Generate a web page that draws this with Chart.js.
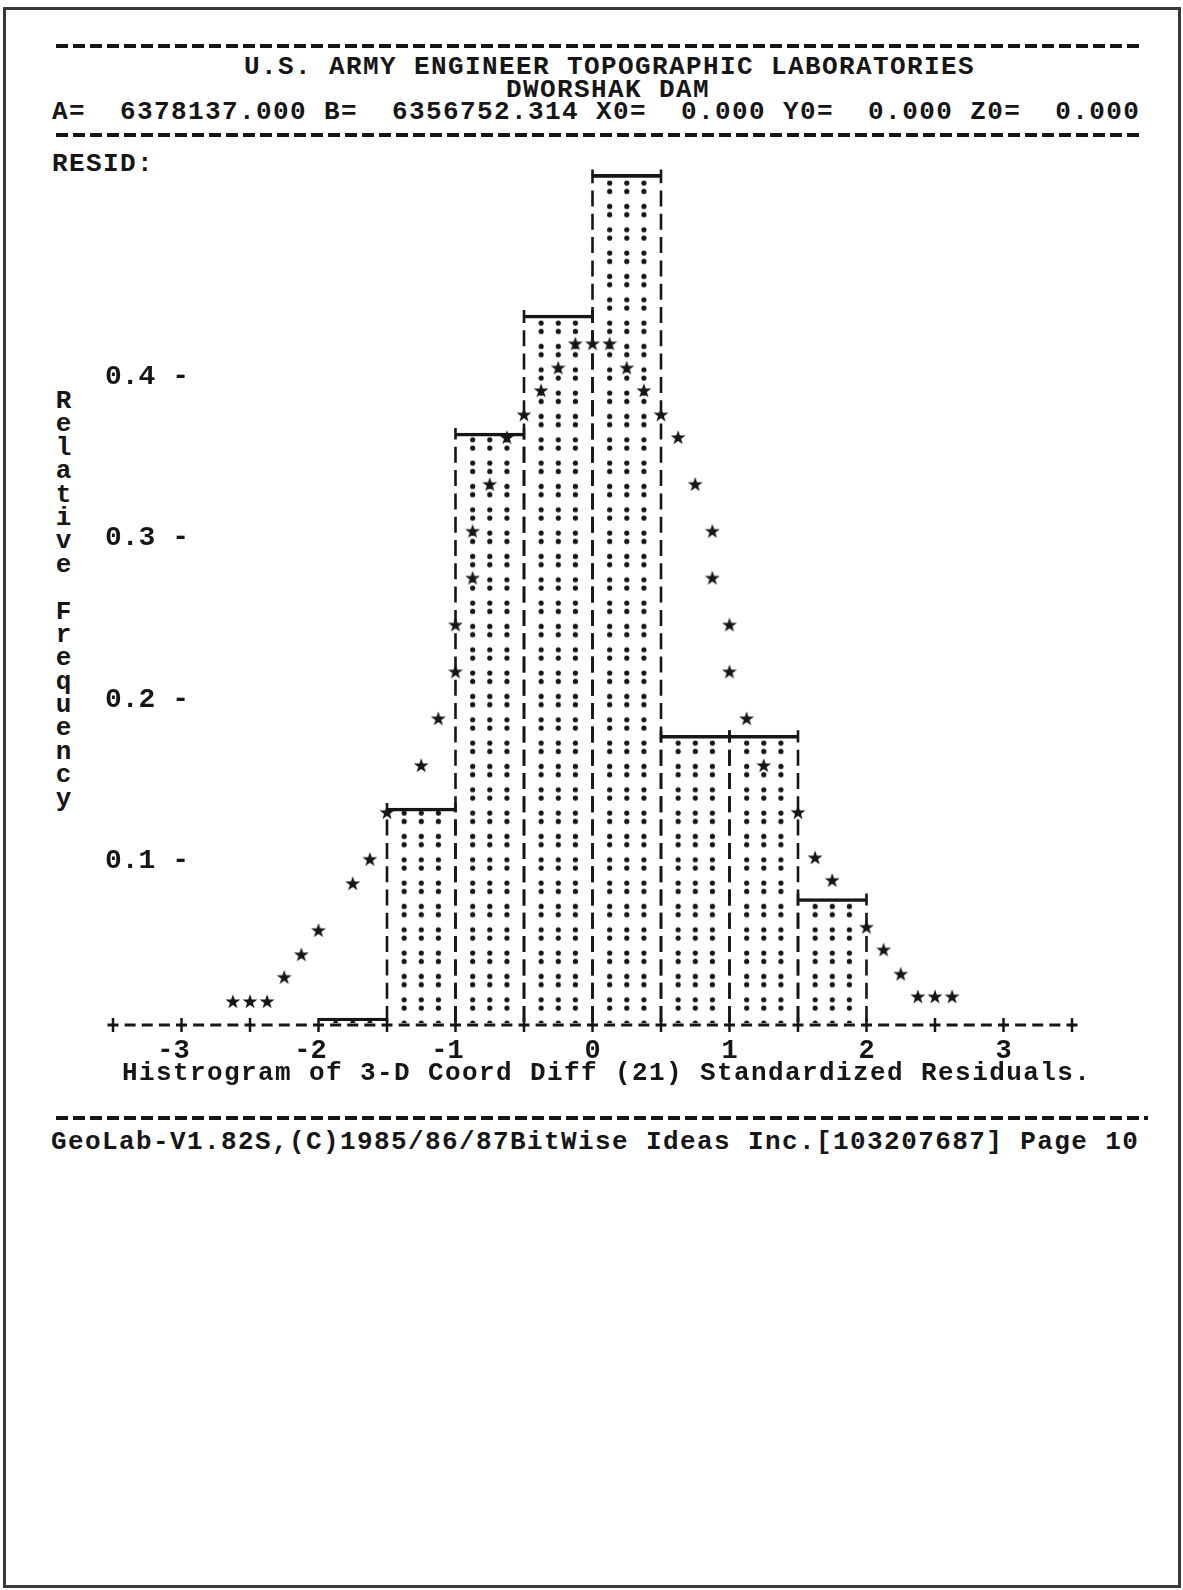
<!DOCTYPE html>
<html>
<head>
<meta charset="utf-8">
<script src="https://cdn.jsdelivr.net/npm/chart.js@4.4.1/dist/chart.umd.min.js"></script>
<style>
html, body { margin: 0; padding: 0; background: #fff; }
#page { position: relative; width: 1183px; height: 1590px; overflow: hidden; }
#frame { position: absolute; left: 3px; top: 7px; width: 1178px; height: 1581px; box-sizing: border-box; border: 3px solid #3a3a3a; }
.txt { position: absolute; font: bold 26px 'Liberation Mono', monospace; letter-spacing: 1.4px; line-height: 24px; white-space: pre; color: #161616; }
.rule { position: absolute; left: 56px; height: 4px; background: repeating-linear-gradient(to right, #161616 0 12px, transparent 12px 17px); }
#chart { position: absolute; left: 0; top: 0; }
#ytitle { position: absolute; left: 55px; top: 389px; font: bold 26px 'Liberation Mono', monospace; color: #161616; }
#ytitle div { width: 17px; height: 23.4px; line-height: 24px; text-align: center; }
</style>
</head>
<body>
<div id="page">
  <div id="frame"></div>
  <div class="rule" style="top:44px; width:1087px;"></div>
  <div class="txt" style="left:244px; top:55px;">U.S. ARMY ENGINEER TOPOGRAPHIC LABORATORIES</div>
  <div class="txt" style="left:506px; top:78px;">DWORSHAK DAM</div>
  <div class="txt" style="left:52px; top:100px;">A=  6378137.000 B=  6356752.314 X0=  0.000 Y0=  0.000 Z0=  0.000</div>
  <div class="rule" style="top:133px; width:1087px;"></div>
  <div class="txt" style="left:52px; top:152px;">RESID:</div>
  <div id="ytitle"></div>
  <canvas id="chart" width="1183" height="1100"></canvas>
  <div class="txt" style="left:122px; top:1061px;">Histrogram of 3-D Coord Diff (21) Standardized Residuals.</div>
  <div class="rule" style="top:1116px; width:1092px;"></div>
  <div class="txt" style="left:51px; top:1130px;">GeoLab-V1.82S,(C)1985/86/87BitWise Ideas Inc.[103207687] Page 10</div>
</div>
<script>
const binCenters = [-1.75, -1.25, -0.75, -0.25, 0.25, 0.75, 1.25, 1.75];
const relFreq = [0.003, 0.133, 0.365, 0.438, 0.525, 0.178, 0.178, 0.077];

// Curva normal dibujada con asteriscos
const curveX = [-2.625, -2.5, -2.375, -2.25, -2.125, -2.0, -1.75, -1.625, -1.5, -1.25, -1.125, -1.0, -1.0,
  -0.875, -0.875, -0.75, -0.625, -0.5, -0.375, -0.25, -0.125, 0, 0.125, 0.25, 0.375, 0.5, 0.625, 0.75,
  0.875, 0.875, 1.0, 1.0, 1.125, 1.25, 1.5, 1.625, 1.75, 2.0, 2.125, 2.25, 2.375, 2.5, 2.625];
const curveY = [0.013, 0.013, 0.013, 0.028, 0.042, 0.057, 0.086, 0.101, 0.130, 0.159, 0.188, 0.217, 0.246,
  0.275, 0.304, 0.333, 0.362, 0.376, 0.391, 0.405, 0.420, 0.420, 0.420, 0.405, 0.391, 0.376, 0.362, 0.333,
  0.304, 0.275, 0.246, 0.217, 0.188, 0.159, 0.130, 0.102, 0.088, 0.059, 0.045, 0.030, 0.016, 0.016, 0.016];

const xTickLabels = [-3, -2, -1, 0, 1, 2, 3];
const yTickLabels = [0.1, 0.2, 0.3, 0.4];
const yTitle = 'Relative Frequency';

const ink = '#161616';

// Título vertical, letra por letra
const yt = document.getElementById('ytitle');
yTitle.split('').forEach(ch => {
    const d = document.createElement('div');
    d.textContent = ch === ' ' ? '\u00a0' : ch;
    yt.appendChild(d);
});

// Asterisco como estilo de punto
function starImage() {
    const c = document.createElement('canvas');
    c.width = 18; c.height = 18;
    const g = c.getContext('2d');
    g.fillStyle = ink;
    g.beginPath();
    for (let k = 0; k < 10; k++) {
        const r = k % 2 ? 3.1 : 7.8;
        const a = -Math.PI / 2 + k * Math.PI / 5;
        g.lineTo(9 + r * Math.cos(a), 9 + r * Math.sin(a));
    }
    g.closePath();
    g.fill();
    return c;
}

// Relleno de puntos (columnas de ":") alineado a las clases
function dotPattern(chart) {
    const xs = chart.scales.x, ys = chart.scales.y;
    if (!chart.chartArea || !xs || !ys) return 'rgba(0,0,0,0)';
    const unit = xs.getPixelForValue(1) - xs.getPixelForValue(0);
    const tile = document.createElement('canvas');
    tile.width = Math.round(unit);
    tile.height = 70;
    const t = tile.getContext('2d');
    t.fillStyle = ink;
    const col = tile.width / 8;
    const row = tile.height / 3;
    for (let c = 1; c < 8; c++) {
        if (c === 4) continue;
        for (let r = 0; r < 3; r++) {
            [6, 14.3].forEach(dy => {
                t.beginPath();
                t.arc(c * col, r * row + dy, 2.6, 0, Math.PI * 2);
                t.fill();
            });
        }
    }
    const p = chart.ctx.createPattern(tile, 'repeat');
    const base = ys.getPixelForValue(0);
    p.setTransform(new DOMMatrix().translate(xs.getPixelForValue(-3.5), base - 15 - 14.3));
    return p;
}

const asciiPlugin = {
    id: 'ascii',
    afterDatasetDraw(chart, args) {
        if (args.meta.type !== 'bar') return;
        const ctx = chart.ctx;
        ctx.save();
        ctx.strokeStyle = ink;
        ctx.lineWidth = 2.6;
        ctx.setLineDash([16, 7.3]);
        args.meta.data.forEach((bar, i) => {
            if (relFreq[i] < 0.01) return;
            const p = bar.getProps(['x', 'y', 'base', 'width'], true);
            [p.x - p.width / 2, p.x + p.width / 2].forEach(ex => {
                ctx.beginPath();
                ctx.moveTo(ex, p.base - 1);
                ctx.lineTo(ex, p.y - 5);
                ctx.stroke();
            });
        });
        ctx.restore();
    },
    afterDraw(chart) {
        const {ctx, scales: {x, y}} = chart;
        const ay = y.getPixelForValue(0) + 2;
        const cell = (x.getPixelForValue(0.5) - x.getPixelForValue(0)) / 4;
        ctx.save();
        ctx.strokeStyle = ink;
        ctx.lineWidth = 3;
        ctx.setLineDash([11, cell - 11]);
        ctx.beginPath();
        ctx.moveTo(x.left - 5.5, ay);
        ctx.lineTo(x.right + 5.5, ay);
        ctx.stroke();
        ctx.setLineDash([]);
        ctx.lineWidth = 2.5;
        x.ticks.forEach(t => {
            const px = x.getPixelForValue(t.value);
            ctx.beginPath();
            ctx.moveTo(px, ay - 7);
            ctx.lineTo(px, ay + 7);
            ctx.stroke();
        });
        ctx.restore();
    }
};

const monoFont = { family: 'Liberation Mono', size: 27, weight: 'bold' };

new Chart(document.getElementById('chart'), {
    type: 'bar',
    data: {
        datasets: [{
            type: 'scatter',
            label: 'Normal',
            data: curveX.map((x, i) => ({ x: x, y: curveY[i] })),
            pointStyle: starImage(),
            pointRadius: 8,
            order: 0
        }, {
            type: 'bar',
            label: 'RESID',
            data: binCenters.map((x, i) => ({ x: x, y: relFreq[i] })),
            backgroundColor: c => dotPattern(c.chart),
            borderColor: ink,
            borderWidth: { top: 3, left: 0, right: 0, bottom: 0 },
            borderSkipped: false,
            categoryPercentage: 1,
            barPercentage: 1,
            order: 1
        }]
    },
    options: {
        responsive: false,
        animation: false,
        devicePixelRatio: 1,
        layout: { padding: { left: 113, right: 111, top: 134, bottom: 0 } },
        plugins: {
            legend: { display: false },
            tooltip: { enabled: false }
        },
        scales: {
            x: {
                type: 'linear',
                min: -3.5,
                max: 3.5,
                offset: false,
                grid: { display: false, drawTicks: false, offset: false },
                border: { display: false },
                ticks: {
                    stepSize: 0.5,
                    autoSkip: false,
                    maxRotation: 0,
                    padding: 12,
                    color: ink,
                    font: monoFont,
                    callback: v => xTickLabels.includes(v) ? (v < 0 ? v + ' ' : String(v)) : ''
                },
                afterFit: s => { s.height = 77; }
            },
            y: {
                min: 0,
                max: 0.55,
                grid: { display: false, drawTicks: false },
                border: { display: false },
                ticks: {
                    stepSize: 0.1,
                    mirror: true,
                    crossAlign: 'near',
                    padding: -8,
                    autoSkip: false,
                    color: ink,
                    font: { family: 'Liberation Mono', size: 28, weight: 'bold' },
                    callback: v => yTickLabels.some(t => Math.abs(t - v) < 1e-9) ? v.toFixed(1) + ' -' : ''
                },
                afterFit: s => { s.width = 0; }
            }
        }
    },
    plugins: [asciiPlugin]
});
</script>
</body>
</html>
